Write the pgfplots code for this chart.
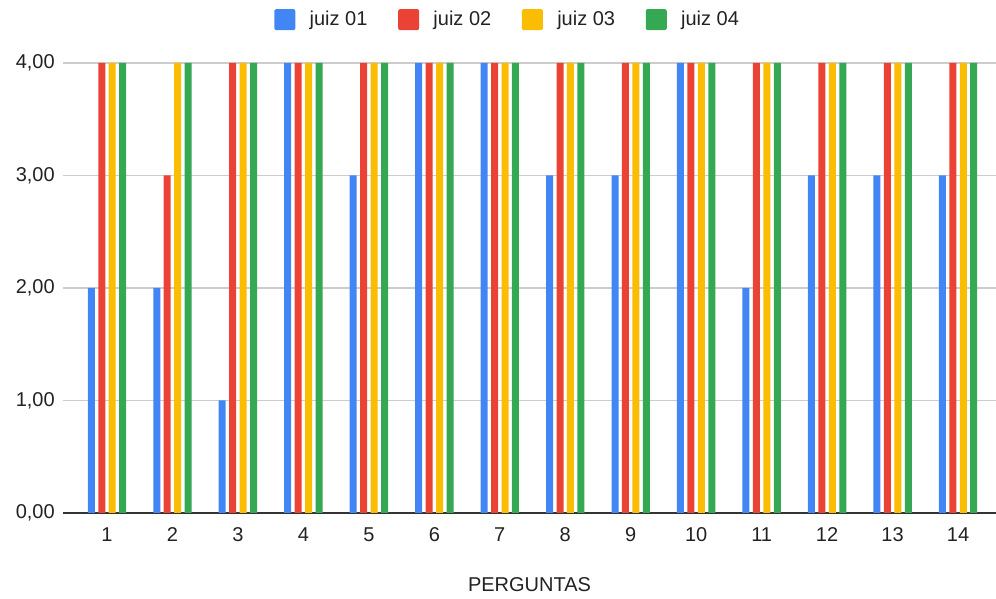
\documentclass[border=0pt]{standalone}
\usepackage{pgfplots}
\pgfplotsset{compat=1.18}
\usepackage{fontspec}
\setmainfont{Liberation Sans}

\definecolor{jblue}{HTML}{4285F4}
\definecolor{jred}{HTML}{EA4335}
\definecolor{jyellow}{HTML}{FBBC04}
\definecolor{jgreen}{HTML}{34A853}
\definecolor{gridgray}{HTML}{CCCCCC}
\definecolor{axisgray}{HTML}{333333}
\definecolor{txt}{HTML}{222222}

\begin{document}
\begin{tikzpicture}
\useasboundingbox (0,0) rectangle (747pt,449.25pt);
\begin{axis}[
    at={(47.25pt,64.5pt)}, anchor=south west,
    scale only axis,
    width=699.75pt, height=337.5pt,
    font=\fontsize{15pt}{18pt}\selectfont\color{txt},
    ybar=2.6pt, bar width=5.25pt,
    xmin=0.328, xmax=14.58,
    ymin=0, ymax=4,
    xtick={1,...,14},
    ytick={0,1,2,3,4},
    axis x line*=bottom, axis y line*=left,
    x axis line style={color=axisgray, line width=1.4pt},
    y axis line style={draw=none},
    major tick length=0pt,
    ymajorgrids, grid style={gridgray, line width=0.8pt},
    /pgf/number format/assume math mode=true,
    yticklabel style={/pgf/number format/fixed, /pgf/number format/fixed zerofill,
        /pgf/number format/precision=2, /pgf/number format/use comma,
        inner sep=0pt, xshift=-6pt},
    xticklabel style={inner sep=0pt, yshift=-10.5pt},
    xlabel={PERGUNTAS},
    xlabel style={at={(axis description cs:0.5,0)}, anchor=north, inner sep=0pt, yshift=-48pt},
    legend columns=4,
    legend style={draw=none, fill=none, at={(rel axis cs:0.4755,1.0964)}, anchor=center,
        nodes={inner sep=0pt},
        /tikz/every odd column/.append style={column sep=10.75pt},
        /tikz/every even column/.append style={column sep=23pt}},
    legend image code/.code={\fill[#1, rounded corners=1.5pt] (0pt,-7.875pt) rectangle (15.75pt,7.875pt);},
]
\addplot[fill=jblue, draw=none] coordinates {
    (1,2) (2,2) (3,1) (4,4) (5,3) (6,4) (7,4) (8,3) (9,3) (10,4) (11,2) (12,3) (13,3) (14,3)
};
\addplot[fill=jred, draw=none] coordinates {
    (1,4) (2,3) (3,4) (4,4) (5,4) (6,4) (7,4) (8,4) (9,4) (10,4) (11,4) (12,4) (13,4) (14,4)
};
\addplot[fill=jyellow, draw=none] coordinates {
    (1,4) (2,4) (3,4) (4,4) (5,4) (6,4) (7,4) (8,4) (9,4) (10,4) (11,4) (12,4) (13,4) (14,4)
};
\addplot[fill=jgreen, draw=none] coordinates {
    (1,4) (2,4) (3,4) (4,4) (5,4) (6,4) (7,4) (8,4) (9,4) (10,4) (11,4) (12,4) (13,4) (14,4)
};
\legend{juiz 01, juiz 02, juiz 03, juiz 04}
\end{axis}
\end{tikzpicture}
\end{document}
